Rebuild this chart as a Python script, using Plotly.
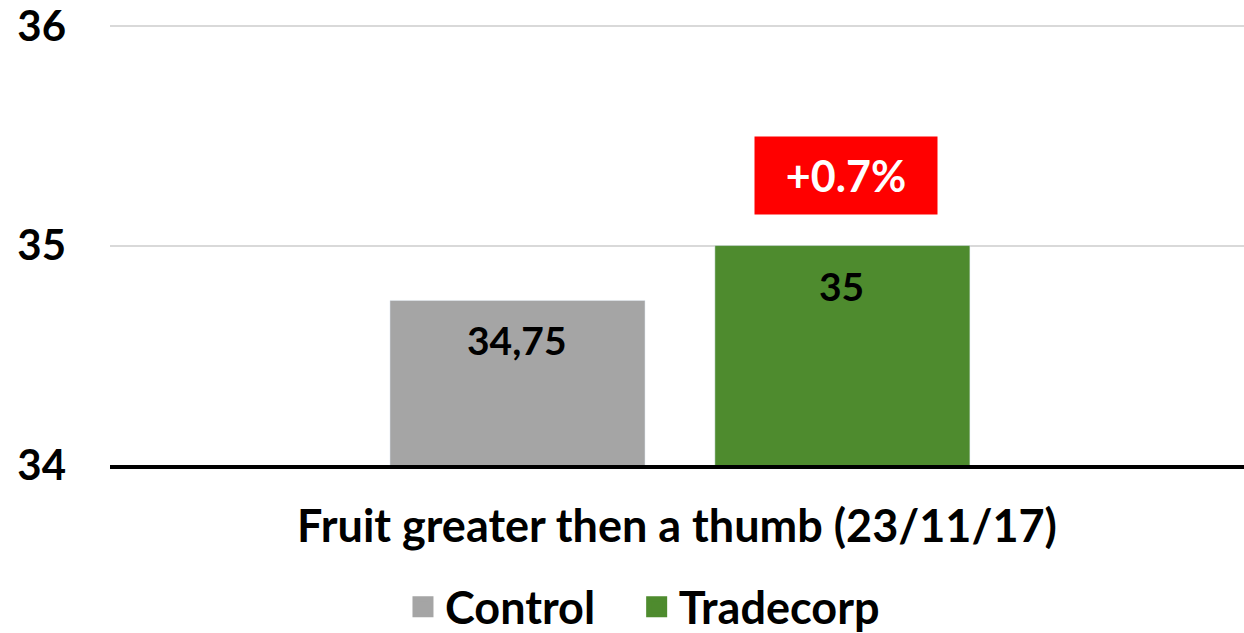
import plotly.graph_objects as go

categories = ["Fruit greater then a thumb (23/11/17)"]
series_names = ["Control", "Tradecorp"]
series_values = [34.75, 35.0]
value_labels = ["34,75", "35"]
series_colors = ["#A5A5A5", "#4E8B2E"]
increase_label = "+0.7%"
y_ticks = [34, 35, 36]

FONT = "Lato"

fig = go.Figure()
pads = ["&nbsp;&nbsp;&nbsp;", ""]
for name, val, col, pad in zip(series_names, series_values, series_colors, pads):
    fig.add_trace(go.Bar(
        x=categories, y=[val], name=name, marker_color=col,
        showlegend=False, hoverinfo="skip",
    ))
    # legend proxy
    fig.add_trace(go.Scatter(
        x=[None], y=[None], name=f"<b>{name}</b>{pad}", mode="markers",
        marker=dict(symbol="square", size=26, color=col, line=dict(color=col, width=5)),
    ))

shifts = [-163, 162]
for val, lab, sh in zip(series_values, value_labels, shifts):
    fig.add_annotation(
        x=categories[0], y=val, text=f"<b>{lab}</b>", showarrow=False,
        xshift=sh, yshift=-40, font=dict(family=FONT, size=39, color="black"),
    )

fig.add_annotation(
    x=categories[0], y=35.32, text=f"<b>{increase_label}</b>", showarrow=False,
    xshift=166, bgcolor="#FF0000", width=170, height=65, borderpad=6,
    font=dict(family=FONT, size=43, color="white"),
)

fig.update_layout(
    width=1244, height=633,
    margin=dict(l=110, r=0, t=25, b=168, autoexpand=False),
    plot_bgcolor="white", paper_bgcolor="white",
    barmode="group", bargap=0.427, bargroupgap=0.215,
    font=dict(family=FONT, color="black"),
    legend=dict(
        orientation="h", x=0.47, xanchor="center",
        yref="container", y=1 - 607 / 633, yanchor="middle",
        font=dict(family=FONT, size=45, color="black"),
        itemsizing="trace", itemwidth=34,
    ),
    xaxis=dict(
        range=[-0.5026, 0.4974],
        showticklabels=False, showline=True, linecolor="black", linewidth=4,
        title=dict(text=f"<b>{categories[0]}</b>", font=dict(family=FONT, size=45), standoff=43),
        ticks="", automargin=False,
    ),
    yaxis=dict(
        range=[34, 36.005], tickvals=y_ticks, ticktext=[f"<b>{t}</b>" for t in y_ticks],
        showgrid=True, gridcolor="#D9D9D9", gridwidth=2, zeroline=False,
        tickfont=dict(family=FONT, size=42, color="black"), ticklabelstandoff=43,
        ticklabeloverflow="allow", automargin=False,
    ),
)

fig.write_html("out.html", config={"displayModeBar": False},
               post_script="document.body.style.margin='0';")
